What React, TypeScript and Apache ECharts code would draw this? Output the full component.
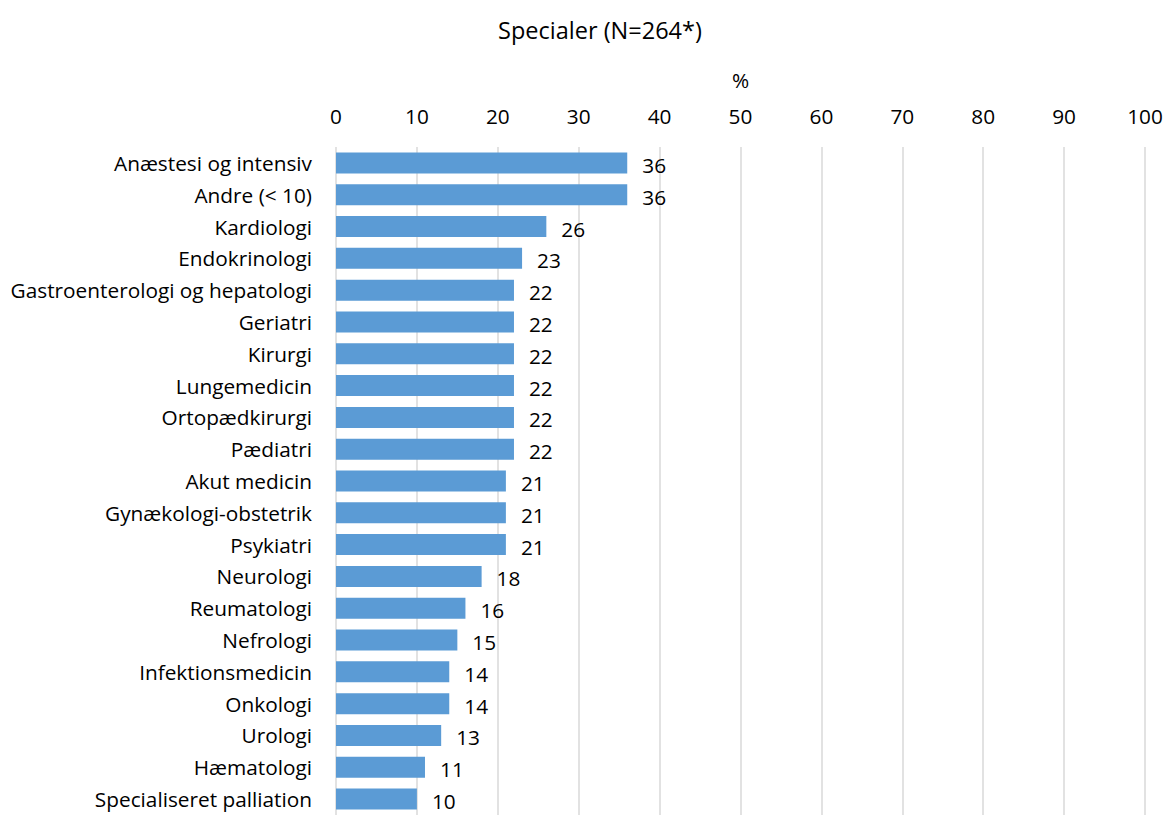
import React, { useEffect, useRef } from "react";
import * as echarts from "echarts";

const categories = [
  "Anæstesi og intensiv",
  "Andre (< 10)",
  "Kardiologi",
  "Endokrinologi",
  "Gastroenterologi og hepatologi",
  "Geriatri",
  "Kirurgi",
  "Lungemedicin",
  "Ortopædkirurgi",
  "Pædiatri",
  "Akut medicin",
  "Gynækologi-obstetrik",
  "Psykiatri",
  "Neurologi",
  "Reumatologi",
  "Nefrologi",
  "Infektionsmedicin",
  "Onkologi",
  "Urologi",
  "Hæmatologi",
  "Specialiseret palliation",
];
const values = [36, 36, 26, 23, 22, 22, 22, 22, 22, 22, 21, 21, 21, 18, 16, 15, 14, 14, 13, 11, 10];
const title = "Specialer (N=264*)";
const axisUnit = "%";

const FONT = "'Open Sans', sans-serif";
const FS = 20.8;

export default function App() {
  const ref = useRef<HTMLDivElement>(null);
  useEffect(() => {
    if (!ref.current) return;
    const chart = echarts.init(ref.current, undefined, { renderer: "svg" });
    chart.setOption({
      animation: false,
      backgroundColor: "#ffffff",
      textStyle: { fontFamily: FONT, color: "#000" },
      title: {
        text: title,
        left: 595,
        textAlign: "center",
        top: 13,
        textStyle: { fontFamily: FONT, fontSize: 23.5, fontWeight: "normal", color: "#000" },
      },
      grid: { left: 336, top: 147, width: 809, height: 672, containLabel: false },
      xAxis: {
        type: "value",
        position: "top",
        min: 0,
        max: 100,
        interval: 10,
        name: axisUnit,
        nameLocation: "middle",
        nameGap: 57,
        nameTextStyle: { fontFamily: FONT, fontSize: FS, color: "#000" },
        axisLine: { show: false },
        axisTick: { show: false },
        axisLabel: { fontFamily: FONT, fontSize: FS, color: "#000", margin: 21 },
        splitLine: { show: true, lineStyle: { color: "#d9d9d9", width: 1.5 } },
      },
      yAxis: {
        type: "category",
        data: categories,
        inverse: true,
        axisLine: { show: false },
        axisTick: { show: false },
        axisLabel: { fontFamily: FONT, fontSize: FS, color: "#000", margin: 24 },
        splitLine: { show: false },
      },
      series: [
        {
          type: "bar",
          data: values,
          barCategoryGap: "34%",
          itemStyle: { color: "#5B9BD5" },
          label: {
            show: true,
            position: "right",
            distance: 15,
            fontFamily: FONT,
            fontSize: FS,
            color: "#000",
            offset: [0, 2],
          },
        },
      ],
    });
    return () => chart.dispose();
  }, []);
  return (
    <div
      ref={ref}
      style={{ position: "absolute", left: 0, top: 0, width: 1167, height: 815 }}
    />
  );
}
